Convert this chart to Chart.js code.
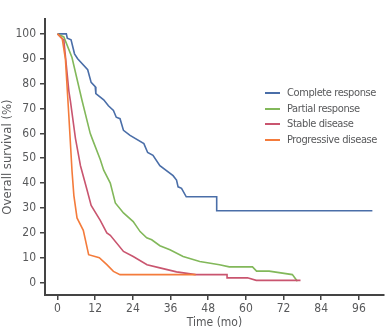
<!DOCTYPE html>
<html>
<head>
<meta charset="utf-8">
<script src="https://cdn.jsdelivr.net/npm/chart.js@4.4.0/dist/chart.umd.min.js"></script>
<style>
  body { margin: 0; background: #fff; }
  #wrap { position: relative; width: 386px; height: 332px; }
  #legend { position: absolute; left: 265px; top: 85px; font-family: "Liberation Sans Narrow", "DejaVu Sans Condensed", sans-serif; font-size: 11px; letter-spacing: -0.4px; color: #58595b; }
  #legend div { height: 15.7px; line-height: 15.7px; white-space: nowrap; }
  #legend span { display: inline-block; width: 15px; height: 2px; vertical-align: middle; margin-right: 7px; }
</style>
</head>
<body>
<div id="wrap">
  <canvas id="survChart" width="386" height="332"></canvas>
  <div id="legend"></div>
</div>
<script>
// KM curves: [month, % surviving]
var seriesNames = ["Complete response", "Partial response", "Stable disease", "Progressive disease"];
var seriesColors = ["#4a6ea8", "#82b85a", "#c9556f", "#f47b3b"];

var complete = [[0,100],[2.8,100],[3.1,98.3],[4.3,97.6],[5.4,92],[6.4,90],[9.6,85.6],[10.7,80.5],[12,78.8],[12.2,76],
  [14.7,73.5],[16.2,71.1],[17.8,69.2],[18.7,66.5],[19.9,65.9],[21,61.2],[23.1,59.2],[27.5,55.9],[28.7,52.3],[30.4,51.2],
  [32.6,47],[36.8,43],[37.9,41.2],[38.4,38.5],[39.5,37.9],[41,34.5],[50.7,34.5],[50.7,28.9],[100.3,28.9]];
var partial = [[0,100],[2,98.8],[4.6,90.5],[7.8,73.2],[10.4,60],[11,58],[13.6,49.5],[14.7,45.2],[16.8,40],[18.4,32],
  [21,28],[24.1,24.5],[26.3,20.5],[28.4,18],[30,17.2],[32.6,14.8],[35.8,13.2],[40,10.5],[45.3,8.5],[51.6,7.2],
  [54.7,6.3],[62.1,6.3],[63.4,4.6],[67.4,4.6],[74.8,3.2],[76.4,0.5]];
var stable = [[0,100],[2,97.5],[3.6,77],[4.1,73],[5.7,58],[7.3,47],[9.4,37.2],[10.7,31],[13.6,25],[15.7,20],[16.8,19],
  [21,12.5],[24.1,10.5],[28.5,7.2],[32.6,5.9],[37.9,4.3],[44,3.2],[54,3.2],[54,1.9],[60.5,1.9],[63.3,0.9],[77.4,0.9]];
var progressive = [[0,100],[1.5,98],[2.5,90],[3.6,67],[4.6,45],[5.2,35],[6.2,26],[8.2,21],[9.9,11.2],[13.3,10],
  [15.7,7.2],[17.8,4.5],[19.9,3.2],[44,3.2]];

var xTicks = [0, 12, 24, 36, 48, 60, 72, 84, 96];
var yTicks = [0, 10, 20, 30, 40, 50, 60, 70, 80, 90, 100];

var allSeries = [complete, partial, stable, progressive];
var textColor = "#58595b";
var fontName = "'Liberation Sans Narrow', 'DejaVu Sans Condensed', sans-serif";

var datasets = allSeries.map(function (pts, i) {
  return {
    label: seriesNames[i],
    data: pts.map(function (p) { return { x: p[0], y: p[1] }; }),
    borderColor: seriesColors[i],
    borderWidth: 1.6,
    pointRadius: 0,
    tension: 0,
    fill: false
  };
});
// draw blue on top like the original
datasets.reverse();

new Chart("survChart", {
  type: "line",
  data: { datasets: datasets },
  options: {
    responsive: false,
    animation: false,
    layout: { padding: { top: 19, right: 2, left: 0, bottom: 0 } },
    plugins: { legend: { display: false }, tooltip: { enabled: false } },
    scales: {
      x: {
        type: "linear",
        min: -4, max: 104,
        afterBuildTicks: function (s) { s.ticks = xTicks.map(function (v) { return { value: v }; }); },
        afterFit: function (s) { s.height = 37; },
        grid: { display: true, drawOnChartArea: false, drawTicks: true, tickLength: 5, color: "#444", lineWidth: 1.5 },
        border: { display: true, color: "#444", width: 2 },
        ticks: { color: textColor, padding: 2, font: { family: fontName, size: 12 } },
        title: { display: true, text: "Time (mo)", color: textColor, padding: { top: 0, bottom: 2 }, font: { family: fontName, size: 12 } }
      },
      y: {
        min: -5, max: 106,
        afterBuildTicks: function (s) { s.ticks = yTicks.map(function (v) { return { value: v }; }); },
        afterFit: function (s) { s.width = 45; },
        grid: { display: true, drawOnChartArea: false, drawTicks: true, tickLength: 5, color: "#444", lineWidth: 1.5 },
        border: { display: true, color: "#444", width: 2 },
        ticks: { color: textColor, padding: 4, font: { family: fontName, size: 12 } },
        title: { display: true, text: "Overall survival (%)", color: textColor, padding: { top: 0, bottom: 0 }, font: { family: fontName, size: 13 } }
      }
    }
  }
});

// legend box inside the plot
var lg = document.getElementById("legend");
seriesNames.forEach(function (name, i) {
  var row = document.createElement("div");
  var sw = document.createElement("span");
  sw.style.background = seriesColors[i];
  row.appendChild(sw);
  row.appendChild(document.createTextNode(name));
  lg.appendChild(row);
});
</script>
</body>
</html>
